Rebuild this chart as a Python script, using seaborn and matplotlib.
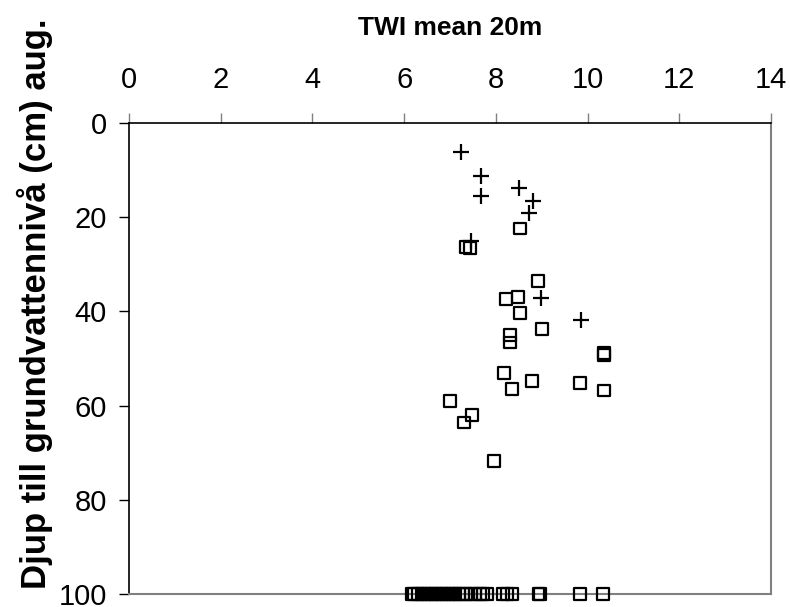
import matplotlib
matplotlib.use("Agg")
import matplotlib.pyplot as plt
import seaborn as sns
import pandas as pd

# Series "+"
plus_x = [7.24, 7.68, 7.68, 8.50, 8.80, 8.72, 7.46, 8.98, 9.86]
plus_y = [6.1, 11.2, 15.5, 13.7, 16.6, 19.2, 25.1, 37.1, 41.8]

# Series "square"
square_x = [8.53, 7.34, 7.44, 8.92, 8.22, 8.48, 8.53, 9.01, 8.31, 8.31,
            10.36, 10.36, 8.18, 8.79, 8.35, 9.84, 10.36, 7.00, 7.48, 7.30, 7.96,
            6.17, 6.22, 6.30, 6.38, 6.45, 6.52, 6.60, 6.68, 6.75, 6.83, 6.90,
            6.97, 7.05, 7.12, 7.20, 7.28, 7.35, 7.45, 7.55, 7.65, 7.72, 7.81,
            8.15, 8.25, 8.35, 8.93, 8.97, 9.83, 10.34]
square_y = [22.4, 26.3, 26.6, 33.5, 37.3, 36.9, 40.3, 43.7, 45.0, 46.6,
            48.8, 49.2, 53.0, 54.7, 56.4, 55.2, 56.8, 59.0, 62.0, 63.6, 71.7,
            100, 100, 100, 100, 100, 100, 100, 100, 100, 100, 100,
            100, 100, 100, 100, 100, 100, 100, 100, 100, 100, 100,
            100, 100, 100, 100, 100, 100, 100]

x_ticks = [0, 2, 4, 6, 8, 10, 12, 14]
y_ticks = [0, 20, 40, 60, 80, 100]
x_label = "TWI mean 20m"
y_label = "Djup till grundvattennivå (cm) aug."

sns.set_style("white")
plt.rcParams['font.family'] = ['Liberation Sans', 'DejaVu Sans']
plt.rcParams['text.color'] = 'black'
plt.rcParams['axes.labelcolor'] = 'black'
plt.rcParams['xtick.color'] = 'black'
plt.rcParams['ytick.color'] = 'black'

fig = plt.figure(figsize=(7.9, 6.07), dpi=100)
ax = fig.add_axes([129/790, 1-594/607, (771-129)/790, (594-123)/607])

df_sq = pd.DataFrame({"x": square_x, "y": square_y})
df_pl = pd.DataFrame({"x": plus_x, "y": plus_y})

sns.scatterplot(data=df_sq, x="x", y="y", ax=ax, marker="s", s=72,
                facecolor="none", edgecolor="black", linewidth=1.6,
                clip_on=False, zorder=3)
sns.scatterplot(data=df_pl, x="x", y="y", ax=ax, marker="+", s=120,
                color="black", linewidth=1.6, clip_on=False, zorder=4)

ax.set_xlim(0, 14)
ax.set_ylim(100, 0)
ax.set_xticks(x_ticks)
ax.set_yticks(y_ticks)
ax.xaxis.tick_top()
ax.xaxis.set_label_position("top")
ax.set_xlabel(x_label, fontsize=19, fontweight="bold", labelpad=22)
ax.set_ylabel(y_label, fontsize=25, fontweight="bold")
ax.yaxis.set_label_coords(-0.119, 0.617)

ax.tick_params(axis="x", top=True, bottom=False, direction="out", length=7,
               width=1, color="#808080", labelcolor="black", labelsize=21, pad=14)
ax.tick_params(axis="y", left=True, direction="out", length=7,
               width=1, color="black", labelcolor="black", labelsize=21, pad=9)

for side in ["top", "left"]:
    ax.spines[side].set_color("black")
    ax.spines[side].set_linewidth(1.2)
for side in ["right", "bottom"]:
    ax.spines[side].set_color("#808080")
    ax.spines[side].set_linewidth(1.5)
    ax.spines[side].set_visible(True)

fig.savefig("out.png", dpi=100)
